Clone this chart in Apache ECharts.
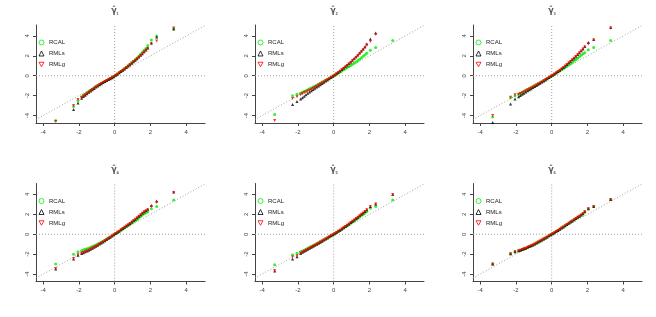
<!DOCTYPE html>
<html><head><meta charset="utf-8">
<script src="https://cdn.jsdelivr.net/npm/echarts@6/dist/echarts.min.js"></script>
<style>html,body{margin:0;padding:0;background:#fff}#c{width:656px;height:317px}</style>
</head><body><div id="c"></div>
<script>
// theoretical quantiles (x positions, shared by every panel)
const xq = [-3.3,-2.3,-2.05,-1.85,-1.75,-1.65,-1.55,-1.45,-1.35,-1.25,-1.15,-1.05,-0.95,-0.85,-0.75,-0.65,-0.55,-0.45,-0.35,-0.25,-0.15,-0.05,0.05,0.15,0.25,0.35,0.45,0.55,0.65,0.75,0.85,0.95,1.05,1.15,1.25,1.35,1.45,1.55,1.65,1.75,1.85,2.05,2.35,3.3];

const seriesNames = ['RCAL','RMLs','RMLg'];
const tickValues = [-4,-2,0,2,4];
const panelIndex = ['1','2','3','4','5','6'];

// panel 1
const p1RCAL = [-4.5,-3.1,-2.5,-2.1,-1.95,-1.85,-1.7,-1.58,-1.45,-1.33,-1.2,-1.08,-0.97,-0.87,-0.76,-0.66,-0.57,-0.47,-0.38,-0.28,-0.19,-0.08,0.04,0.17,0.3,0.43,0.57,0.71,0.85,1.0,1.15,1.3,1.45,1.6,1.78,1.95,2.15,2.35,2.55,2.75,3.05,3.6,4.0,4.75];
const p1RMLs = [-4.8,-3.4,-2.75,-2.25,-2.08,-1.95,-1.8,-1.67,-1.53,-1.4,-1.27,-1.14,-1.02,-0.91,-0.8,-0.69,-0.59,-0.49,-0.39,-0.29,-0.19,-0.09,0.04,0.16,0.29,0.42,0.55,0.69,0.83,0.97,1.11,1.26,1.41,1.56,1.72,1.88,2.05,2.22,2.4,2.58,2.8,3.3,3.9,4.7];
const p1RMLg = [-4.6,-3.0,-2.4,-2.18,-2.04,-1.92,-1.78,-1.65,-1.51,-1.38,-1.25,-1.12,-1.0,-0.89,-0.78,-0.68,-0.58,-0.48,-0.38,-0.28,-0.18,-0.08,0.04,0.16,0.29,0.42,0.55,0.68,0.82,0.96,1.1,1.25,1.4,1.55,1.71,1.87,2.03,2.2,2.38,2.56,2.75,3.2,3.5,4.8];
// panel 2
const p2RCAL = [-3.9,-2.0,-1.85,-1.75,-1.65,-1.58,-1.5,-1.42,-1.32,-1.23,-1.14,-1.05,-0.96,-0.86,-0.76,-0.66,-0.56,-0.46,-0.36,-0.26,-0.15,-0.05,0.05,0.15,0.26,0.37,0.48,0.6,0.71,0.82,0.93,1.04,1.15,1.27,1.39,1.52,1.65,1.8,1.95,2.1,2.25,2.55,2.85,3.55];
const p2RMLs = [-4.8,-2.9,-2.6,-2.35,-2.2,-2.05,-1.9,-1.77,-1.63,-1.5,-1.38,-1.26,-1.14,-1.02,-0.9,-0.78,-0.66,-0.54,-0.42,-0.3,-0.18,-0.06,0.07,0.2,0.33,0.47,0.62,0.77,0.92,1.07,1.23,1.39,1.56,1.73,1.91,2.09,2.28,2.48,2.69,2.92,3.2,3.7,4.3,6.2];
const p2RMLg = [-4.5,-2.3,-2.1,-1.9,-1.8,-1.72,-1.63,-1.54,-1.45,-1.35,-1.25,-1.15,-1.05,-0.94,-0.84,-0.73,-0.62,-0.51,-0.4,-0.29,-0.17,-0.06,0.06,0.19,0.32,0.45,0.59,0.73,0.88,1.03,1.18,1.34,1.5,1.67,1.84,2.02,2.2,2.4,2.6,2.82,3.1,3.45,4.15,6.0];
// panel 3
const p3RCAL = [-4.15,-2.2,-2.0,-1.87,-1.78,-1.68,-1.58,-1.48,-1.38,-1.29,-1.2,-1.1,-1.0,-0.9,-0.8,-0.7,-0.6,-0.5,-0.39,-0.28,-0.17,-0.06,0.05,0.15,0.26,0.37,0.48,0.59,0.71,0.83,0.95,1.08,1.21,1.34,1.48,1.62,1.76,1.91,2.06,2.2,2.3,2.6,2.85,3.55];
const p3RMLs = [-4.7,-2.85,-2.35,-2.1,-1.98,-1.87,-1.76,-1.64,-1.52,-1.41,-1.3,-1.19,-1.08,-0.97,-0.86,-0.75,-0.64,-0.53,-0.42,-0.3,-0.18,-0.06,0.06,0.18,0.3,0.43,0.56,0.7,0.84,0.99,1.14,1.3,1.46,1.62,1.79,1.96,2.14,2.32,2.5,2.7,2.95,3.35,3.65,4.85];
const p3RMLg = [-4.0,-2.15,-1.9,-1.85,-1.78,-1.7,-1.61,-1.52,-1.42,-1.33,-1.23,-1.13,-1.03,-0.93,-0.83,-0.72,-0.62,-0.51,-0.4,-0.29,-0.17,-0.06,0.06,0.18,0.3,0.42,0.55,0.69,0.83,0.97,1.12,1.28,1.44,1.6,1.77,1.94,2.12,2.3,2.48,2.68,2.9,3.2,3.6,4.8];
// panel 4
const p4RCAL = [-3.0,-2.0,-1.75,-1.65,-1.58,-1.52,-1.46,-1.4,-1.32,-1.24,-1.16,-1.08,-0.99,-0.9,-0.8,-0.7,-0.6,-0.49,-0.38,-0.27,-0.16,-0.05,0.06,0.17,0.29,0.41,0.53,0.65,0.77,0.89,1.01,1.12,1.23,1.35,1.48,1.62,1.78,1.93,2.05,2.15,2.25,2.55,2.8,3.45];
const p4RMLs = [-3.5,-2.5,-2.1,-1.94,-1.85,-1.77,-1.69,-1.61,-1.51,-1.41,-1.31,-1.21,-1.1,-0.99,-0.88,-0.77,-0.65,-0.53,-0.41,-0.29,-0.17,-0.05,0.07,0.19,0.31,0.44,0.57,0.7,0.83,0.96,1.09,1.23,1.37,1.51,1.66,1.81,1.97,2.13,2.27,2.38,2.5,2.9,3.35,4.25];
const p4RMLg = [-3.45,-2.45,-2.07,-1.92,-1.83,-1.75,-1.68,-1.6,-1.5,-1.4,-1.3,-1.2,-1.1,-0.99,-0.88,-0.77,-0.65,-0.53,-0.41,-0.29,-0.17,-0.05,0.07,0.19,0.31,0.44,0.57,0.7,0.83,0.96,1.09,1.22,1.36,1.5,1.65,1.8,1.96,2.12,2.25,2.35,2.45,2.8,3.2,4.2];
// panel 5
const p5RCAL = [-3.07,-2.07,-1.9,-1.77,-1.68,-1.6,-1.5,-1.41,-1.32,-1.23,-1.14,-1.05,-0.96,-0.86,-0.76,-0.66,-0.56,-0.46,-0.36,-0.26,-0.15,-0.05,0.05,0.16,0.27,0.38,0.5,0.62,0.74,0.86,0.98,1.1,1.22,1.35,1.48,1.61,1.75,1.88,2.0,2.13,2.28,2.6,2.8,3.45];
const p5RMLs = [-3.7,-2.5,-2.27,-1.93,-1.82,-1.72,-1.62,-1.51,-1.41,-1.31,-1.21,-1.11,-1.01,-0.91,-0.8,-0.7,-0.59,-0.48,-0.37,-0.26,-0.16,-0.05,0.06,0.17,0.29,0.41,0.53,0.65,0.78,0.91,1.04,1.17,1.3,1.44,1.58,1.72,1.86,2.0,2.14,2.28,2.45,2.8,3.05,4.0];
const p5RMLg = [-3.65,-2.3,-2.17,-1.9,-1.8,-1.71,-1.61,-1.5,-1.4,-1.3,-1.2,-1.1,-1.0,-0.9,-0.79,-0.69,-0.58,-0.47,-0.37,-0.26,-0.16,-0.05,0.06,0.17,0.29,0.41,0.53,0.65,0.78,0.91,1.04,1.17,1.3,1.44,1.58,1.72,1.86,2.0,2.14,2.28,2.45,2.8,3.05,4.0];
// panel 6
const p6RCAL = [-3.0,-1.95,-1.75,-1.67,-1.6,-1.53,-1.47,-1.4,-1.32,-1.24,-1.15,-1.07,-0.98,-0.88,-0.78,-0.68,-0.59,-0.48,-0.38,-0.27,-0.16,-0.05,0.05,0.16,0.27,0.38,0.5,0.62,0.74,0.86,0.98,1.1,1.22,1.34,1.46,1.58,1.7,1.82,1.94,2.07,2.25,2.55,2.8,3.5];
const p6RMLs = [-3.0,-1.95,-1.75,-1.67,-1.6,-1.53,-1.47,-1.4,-1.32,-1.24,-1.15,-1.07,-0.98,-0.88,-0.78,-0.68,-0.59,-0.48,-0.38,-0.27,-0.16,-0.05,0.05,0.16,0.27,0.38,0.5,0.62,0.74,0.86,0.98,1.1,1.22,1.34,1.46,1.58,1.7,1.82,1.94,2.07,2.25,2.55,2.8,3.5];
const p6RMLg = [-3.0,-1.95,-1.75,-1.67,-1.6,-1.53,-1.47,-1.4,-1.32,-1.24,-1.15,-1.07,-0.98,-0.88,-0.78,-0.68,-0.59,-0.48,-0.38,-0.27,-0.16,-0.05,0.05,0.16,0.27,0.38,0.5,0.62,0.74,0.86,0.98,1.1,1.22,1.34,1.46,1.58,1.7,1.82,1.94,2.07,2.25,2.55,2.8,3.5];

const panels = [
  [p1RCAL, p1RMLs, p1RMLg],
  [p2RCAL, p2RMLs, p2RMLg],
  [p3RCAL, p3RMLs, p3RMLg],
  [p4RCAL, p4RMLs, p4RMLg],
  [p5RCAL, p5RMLs, p5RMLg],
  [p6RCAL, p6RMLs, p6RMLg]
];

const XMIN = -4.4, XMAX = 5.05, YMIN = -4.75, YMAX = 5.1;
const lefts = [36, 255, 473];
const tops = [25, 183.5];
const W = 169, H = 98;
const FONT = 'Liberation Sans, Arial, sans-serif';
const colors = ['#00ee00', '#000000', '#ff0000'];
const downTri = 'path://M0,0L10,0L5,9Z';
const symbols = ['circle', 'triangle', downTri];

const grid = [], xAxis = [], yAxis = [], series = [], legend = [], title = [];
panels.forEach((vals, i) => {
  const r = Math.floor(i / 3), c = i % 3;
  grid.push({left: lefts[c], top: tops[r], width: W, height: H, containLabel: false});
  xAxis.push({
    type: 'value', gridIndex: i, min: XMIN, max: XMAX,
    splitLine: {show: false},
    axisLine: {onZero: false, lineStyle: {color: '#444', width: 1}},
    axisTick: {customValues: tickValues, length: 3, lineStyle: {color: '#444'}},
    axisLabel: {customValues: tickValues, fontSize: 6, color: '#444', margin: 6, fontFamily: FONT}
  });
  yAxis.push({
    type: 'value', gridIndex: i, min: YMIN, max: YMAX,
    splitLine: {show: false},
    axisLine: {onZero: false, lineStyle: {color: '#444', width: 1}},
    axisTick: {customValues: tickValues, length: 3, lineStyle: {color: '#444'}},
    axisLabel: {customValues: tickValues, fontSize: 6, color: '#444', margin: 6, rotate: 90, fontFamily: FONT}
  });
  const ref = {type: [1, 2], color: '#a0a0a0', width: 1};
  series.push({type: 'line', xAxisIndex: i, yAxisIndex: i, data: [[-5, -5], [XMAX, XMAX]], symbol: 'none', clip: false, silent: true, lineStyle: ref, z: 1});
  series.push({type: 'line', xAxisIndex: i, yAxisIndex: i, data: [[XMIN, 0], [XMAX, 0]], symbol: 'none', silent: true, lineStyle: ref, z: 1});
  series.push({type: 'line', xAxisIndex: i, yAxisIndex: i, data: [[0, YMIN], [0, YMAX]], symbol: 'none', silent: true, lineStyle: ref, z: 1});
  vals.forEach((arr, s) => {
    series.push({
      type: 'scatter', name: seriesNames[s], xAxisIndex: i, yAxisIndex: i,
      data: xq.map((x, k) => [x, arr[k]]),
      symbol: symbols[s], symbolSize: 3, clip: true, silent: true,
      itemStyle: {color: colors[s]}, z: 2 + s
    });
  });
  legend.push({
    left: lefts[c] + 2.5, top: tops[r] + 14.5, orient: 'vertical', padding: 0,
    itemWidth: 5, itemHeight: 5, itemGap: 5, selectedMode: false,
    textStyle: {fontSize: 6, color: '#222', lineHeight: 6, fontFamily: FONT},
    data: seriesNames.map((n, s) => ({
      name: n, icon: symbols[s],
      itemStyle: {color: '#fff', borderColor: colors[s], borderWidth: 1}
    }))
  });
  title.push({
    text: '{g|γ̂}{u|' + panelIndex[i] + '}',
    left: lefts[c] + 79, top: tops[r] - 19, textAlign: 'center', padding: 0,
    textStyle: {rich: {
      g: {fontSize: 8, color: '#555', fontFamily: 'DejaVu Sans'},
      u: {fontSize: 4, color: '#555', fontFamily: FONT, verticalAlign: 'bottom', padding: [6, 0, 0, 0]}
    }}
  });
});

const chart = echarts.init(document.getElementById('c'), null, {renderer: 'canvas'});
chart.setOption({animation: false, backgroundColor: '#fff', grid, xAxis, yAxis, series, legend, title});
</script>
</body></html>
